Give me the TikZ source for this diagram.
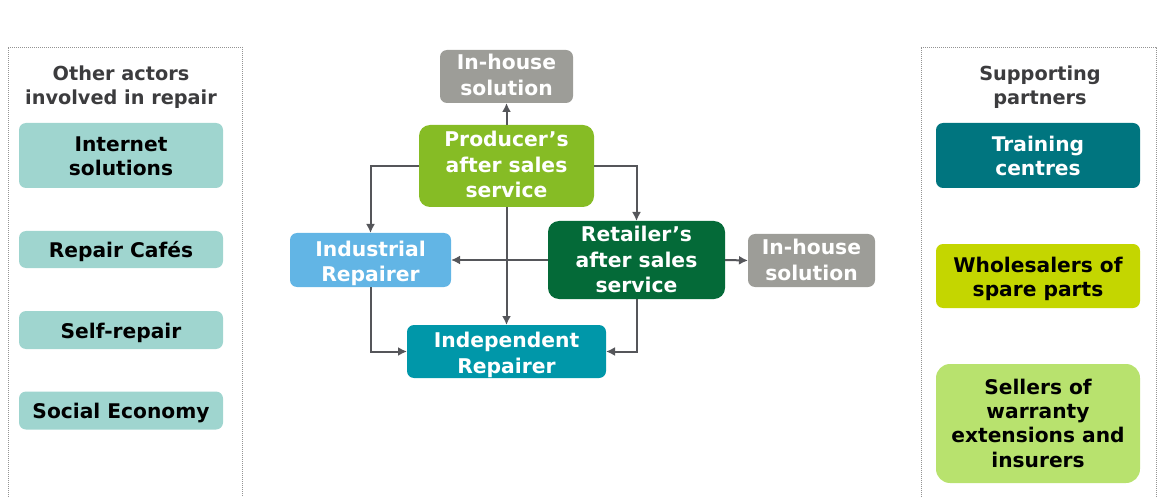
\documentclass[tikz,border=0pt]{standalone}
\usepackage{fontspec}
\setmainfont{DejaVu Sans}
\usetikzlibrary{arrows.meta}
\definecolor{cgrey}{HTML}{9D9D98}
\definecolor{cprod}{HTML}{86BC25}
\definecolor{cind}{HTML}{62B5E5}
\definecolor{cret}{HTML}{046A38}
\definecolor{cindep}{HTML}{0097A9}
\definecolor{cteal}{HTML}{9FD5CF}
\definecolor{ctrain}{HTML}{00757F}
\definecolor{cwhole}{HTML}{C4D600}
\definecolor{csell}{HTML}{B8E26E}
\definecolor{cline}{HTML}{55565A}
\definecolor{ctitle}{HTML}{3C3C3E}
\newcommand{\st}{\vphantom{Ág}}
\newcommand{\dn}[1]{\raisebox{#1}{\st}}
\tikzset{
  x=1pt,y=-1pt,
  basebox/.style={inner sep=0pt,outer sep=0pt,align=center,rounded corners=7pt},
  midbox/.style={basebox,text=white,font=\fontsize{20.3}{25.5}\selectfont\bfseries},
  sidebox/.style={basebox,text=black,font=\fontsize{20.2}{24.3}\selectfont\bfseries,minimum width=204pt},
  paneltitle/.style={inner sep=0pt,align=center,text=ctitle,font=\fontsize{19.3}{24}\selectfont\bfseries},
  panelline/.style={draw=gray!85,line width=0.8pt,dash pattern=on 1pt off 1pt},
  link/.style={draw=cline,line width=2pt,-{Latex[length=9pt,width=9pt]}},
}
\begin{document}
\begin{tikzpicture}
\useasboundingbox (0,0) rectangle (1159,497);
% panels
\draw[panelline] (8,497) -- (8,47) -- (242,47) -- (242,497);
\draw[panelline] (921,497) -- (921,47) -- (1156,47) -- (1156,497);
\node[paneltitle] (ttl) at (121,85) {\dn{2pt}Other actors\\involved in repair\st};
\node[paneltitle] (ttr) at (1040,85) {\dn{2pt}Supporting\\partners\st};
% left boxes
\node[sidebox,fill=cteal,minimum height=65pt] (inet) at (121,155.5) {\dn{2pt}Internet\\solutions\st};
\node[sidebox,fill=cteal,minimum height=37pt] (cafe) at (121,249.5) {\dn{2pt}Repair Cafés\st};
\node[sidebox,fill=cteal,minimum height=38pt] (self) at (121,330) {\dn{2pt}Self-repair\st};
\node[sidebox,fill=cteal,minimum height=38pt] (soc) at (121,410.5) {\dn{2pt}Social Economy\st};
% right boxes
\node[sidebox,fill=ctrain,text=white,minimum height=65pt] (train) at (1038,155.5) {\dn{2pt}Training\\centres\st};
\node[sidebox,fill=cwhole,minimum height=64pt] (whole) at (1038,276) {\dn{2pt}Wholesalers of\\spare parts\st};
\node[sidebox,fill=csell,minimum height=119pt,rounded corners=14pt] (sell) at (1038,423.5) {\st Sellers of\\warranty\\extensions and\\insurers\st};
% centre
\node[midbox,fill=cgrey,minimum width=133pt,minimum height=53pt] (hs1) at (506.5,76.5) {\st In-house\\solution\dn{-2pt}};
\node[midbox,fill=cprod,minimum width=175pt,minimum height=82pt,rounded corners=11pt] (prod) at (506.5,166) {\st Producer’s\\after sales\\service\dn{-2pt}};
\node[midbox,fill=cind,minimum width=161pt,minimum height=54pt] (ind) at (370.5,260) {\dn{4pt}Industrial\\Repairer\st};
\node[midbox,fill=cret,minimum width=177pt,minimum height=78pt,rounded corners=11pt] (ret) at (636.5,260) {\st Retailer’s\\after sales\\service\st};
\node[midbox,fill=cgrey,minimum width=127pt,minimum height=53pt] (hs2) at (811.5,260.5) {\st In-house\\solution\st};
\node[midbox,fill=cindep,minimum width=199pt,minimum height=53pt] (indep) at (506.5,351.5) {\dn{4pt}Independent\\Repairer\st};
% connectors
\draw[link] (prod.north) -- (hs1.south);
\draw[link] (prod.west) -| (ind.north);
\draw[link] (prod.east) -| (ret.north);
\draw[link] (prod.south) -- (indep.north);
\draw[link] (ret.west) -- (ind.east);
\draw[link] (ret.east) -- (hs2.west);
\draw[link] (ind.south) |- (indep.west);
\draw[link] (ret.south) |- (indep.east);
\end{tikzpicture}
\end{document}
